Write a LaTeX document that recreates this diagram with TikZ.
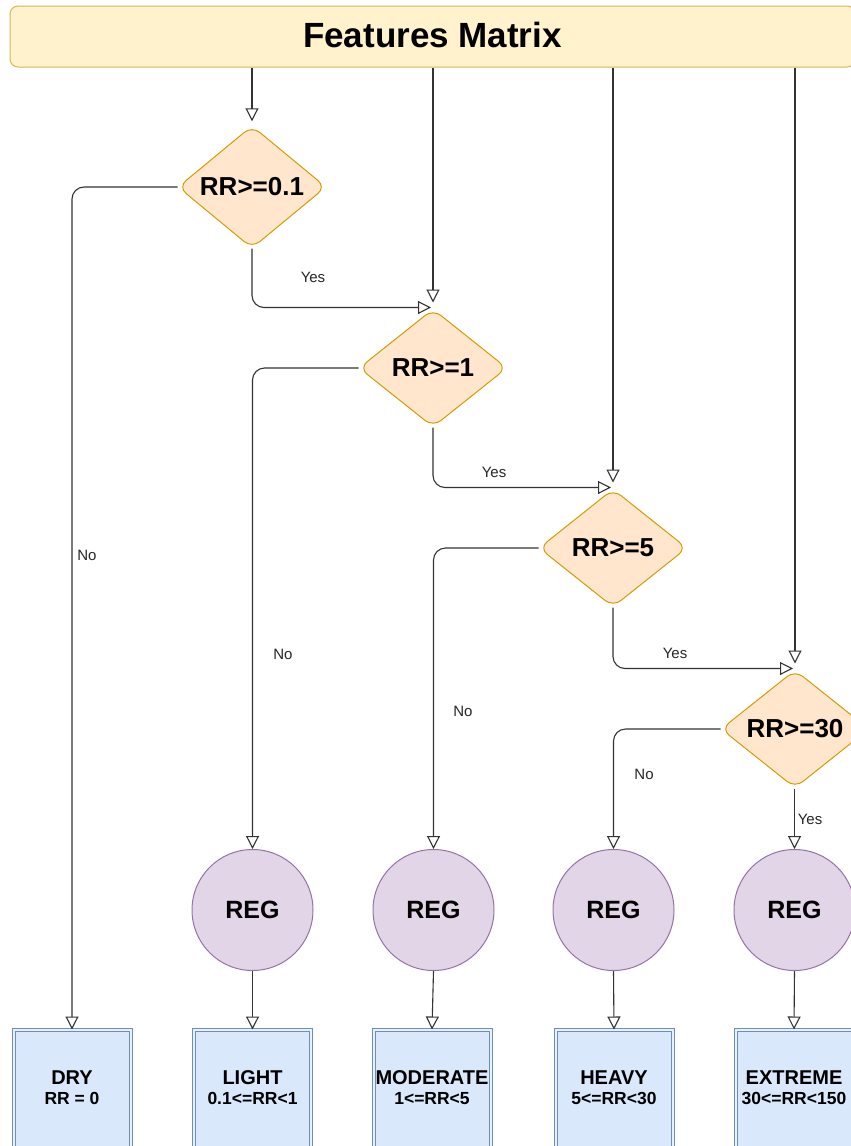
\documentclass[tikz,border=0pt]{standalone}
\usepackage{fontspec}
\setmainfont{Liberation Sans}
\usetikzlibrary{arrows.meta,shapes.geometric,calc}
\definecolor{titlefill}{HTML}{FFF2CC}
\definecolor{titleline}{HTML}{D6B656}
\definecolor{decfill}{HTML}{FFE6CC}
\definecolor{decline}{HTML}{D79B00}
\definecolor{regfill}{HTML}{E1D5E7}
\definecolor{regline}{HTML}{9673A6}
\definecolor{boxfill}{HTML}{DAE8FC}
\definecolor{boxline}{HTML}{6C8EBF}
\definecolor{conncol}{HTML}{333333}
\begin{document}
\begin{tikzpicture}[x=1pt,y=-1pt,
  titlebox/.style={draw=titleline, fill=titlefill, line width=1pt, rounded corners=8pt,
    minimum width=845pt, minimum height=61pt, inner sep=0pt,
    font=\fontsize{35}{40}\selectfont\bfseries},
  decision/.style={diamond, draw=decline, fill=decfill, line width=1pt, rounded corners=10pt,
    minimum width=148pt, minimum height=118pt, inner sep=0pt,
    font=\fontsize{26}{30}\selectfont\bfseries},
  regnode/.style={circle, draw=regline, fill=regfill, line width=1pt, minimum size=121pt,
    inner sep=0pt, font=\fontsize{25}{30}\selectfont\bfseries},
  classbox/.style={rectangle, draw=boxline, double=boxfill!60!white, double distance=2pt,
    line width=1pt, fill=boxfill, minimum width=117pt, minimum height=150pt, inner sep=0pt},
  boxtext/.style={align=center, yshift=17pt, font=\fontsize{20}{20}\selectfont\bfseries},
  conn/.style={draw=conncol, line width=1.1pt, rounded corners=12pt,
    -{Triangle[open,length=13pt,width=13pt]}},
  lbl/.style={font=\fontsize{15}{18}\selectfont, text=black!85, inner sep=1pt}
]
\clip (0,0) rectangle (851,1146);

\node[titlebox] (title) at (432.5,36.5) {\raisebox{3pt}{Features Matrix}};

\node[decision] (d1) at (252,187) {RR>=0.1};
\node[decision] (d2) at (433,368) {RR>=1};
\node[decision] (d3) at (613,548) {RR>=5};
\node[decision] (d4) at (795,729) {RR>=30};

\node[regnode] (r1) at (252.5,910) {REG};
\node[regnode] (r2) at (433.5,910) {REG};
\node[regnode] (r3) at (613.5,910) {REG};
\node[regnode] (r4) at (794.5,910) {REG};

\node[classbox, label={[boxtext]center:DRY\\{\fontsize{17.5}{20}\selectfont RR = 0}}] (dry) at (72,1105) {};
\node[classbox, label={[boxtext]center:LIGHT\\{\fontsize{17.5}{20}\selectfont 0.1<=RR<1}}] (light) at (252.5,1105) {};
\node[classbox, label={[boxtext]center:MODERATE\\{\fontsize{17.5}{20}\selectfont 1<=RR<5}}] (moderate) at (432,1105) {};
\node[classbox, label={[boxtext]center:HEAVY\\{\fontsize{17.5}{20}\selectfont 5<=RR<30}}] (heavy) at (614,1105) {};
\node[classbox, label={[boxtext]center:EXTREME\\{\fontsize{17.5}{20}\selectfont 30<=RR<150}}] (extreme) at (794,1105) {};

% from the features matrix
\draw[conn] (title.south -| d1.north) -- ([yshift=4pt]d1.north);
\draw[conn] (title.south -| d2.north) -- ([yshift=6pt]d2.north);
\draw[conn] (title.south -| d3.north) -- ([yshift=6pt]d3.north);
\draw[conn] (title.south -| d4.north) -- ([yshift=6pt]d4.north);

% yes branches
\draw[conn] (d1.south) |- ([xshift=-2pt,yshift=1pt]d2.north) node[lbl] at (313,277) {Yes};
\draw[conn] (d2.south) |- ([xshift=-2pt,yshift=1pt]d3.north) node[lbl] at (494,472) {Yes};
\draw[conn] (d3.south) |- ([xshift=-2pt,yshift=1pt]d4.north) node[lbl] at (675,653) {Yes};
\draw[conn] (d4.south -| r4.north) -- (r4.north) node[lbl] at (810,819) {Yes};

% no branches
\draw[conn] (d1.west) -| (dry.north) node[lbl] at (87,555) {No};
\draw[conn] (d2.west) -| (r1.north) node[lbl] at (283,654) {No};
\draw[conn] (d3.west) -| (r2.north) node[lbl] at (463,711) {No};
\draw[conn] (d4.west) -| (r3.north) node[lbl] at (644,774) {No};

% regressions to classes
\draw[conn] (r1.south) -- (light.north);
\draw[conn] (r2.south) -- (moderate.north);
\draw[conn] (r3.south) -- (heavy.north);
\draw[conn] (r4.south) -- (extreme.north);
\end{tikzpicture}
\end{document}
